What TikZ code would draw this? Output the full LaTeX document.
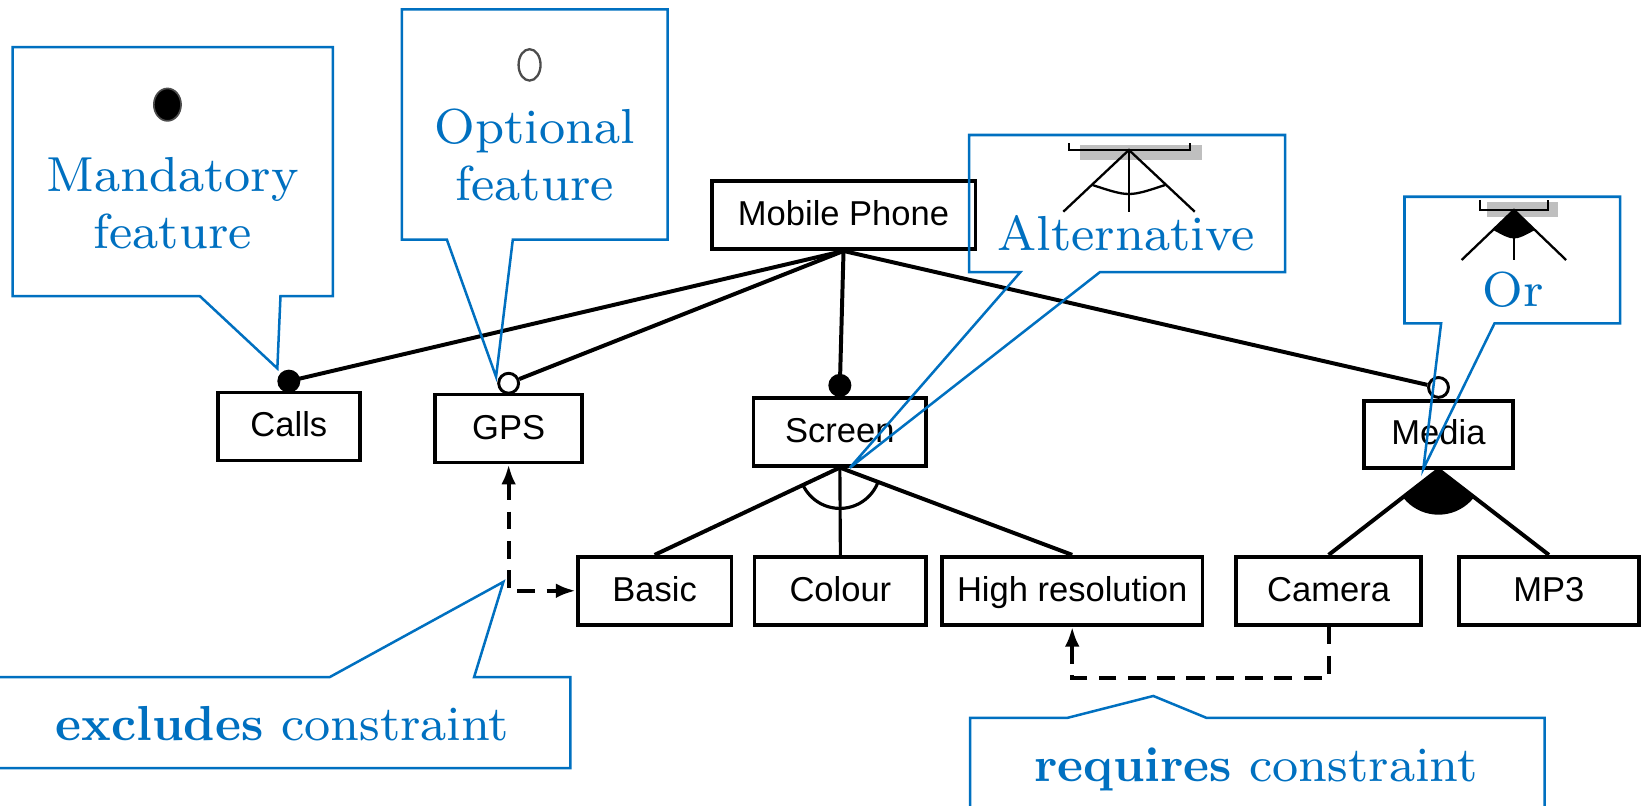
\documentclass[tikz,border=0pt]{standalone}
\usepackage{fontspec}
\setmainfont{lmroman8-regular}[Extension=.otf, BoldFont=lmroman10-bold]
\newfontfamily\featfont{Liberation Sans}
\usetikzlibrary{arrows.meta,calc}
\definecolor{callblue}{HTML}{0070C0}

\begin{document}
\begin{tikzpicture}[x=1pt,y=-1pt,
  feat/.style={draw, line width=3.6pt, rectangle, inner sep=0pt,
    minimum height=65pt, text height=24pt, text depth=4pt,
    font=\featfont\fontsize{33}{40}\selectfont},
  conn/.style={line width=3.8pt},
  mand/.style={circle, fill=black, minimum size=22pt, inner sep=0pt},
  opt/.style={circle, draw, fill=white, line width=2.8pt, minimum size=19pt, inner sep=0pt},
  dep/.style={line width=4pt, dash pattern=on 17pt off 11pt},
  tip/.tip={Latex[length=19pt,width=14pt]},
  callout/.style={draw=callblue, line width=2.4pt, line join=miter},
  ctext/.style={text=callblue, inner sep=0pt, font=\fontsize{47}{54}\selectfont},
  icon/.style={line width=2.2pt}]

\useasboundingbox (0,0) rectangle (1568,770);
\clip (0,0) rectangle (1568,770);

% feature boxes
\node[feat, minimum width=252pt] (mp) at (806,205.5) {Mobile Phone};
\node[feat, minimum width=136pt] (calls) at (276,407.5) {Calls};
\node[feat, minimum width=140pt] (gps) at (486,409.5) {GPS};
\node[feat, minimum width=165pt] (screen) at (802.5,412.5) {Screen};
\node[feat, minimum width=143pt, minimum height=64pt] (media) at (1374.5,415) {Media};
\node[feat, minimum width=147pt] (basic) at (625.5,564.5) {Basic};
\node[feat, minimum width=164pt] (colour) at (803,564.5) {Colour};
\node[feat, minimum width=249pt] (hires) at (1024.5,564.5) {High resolution};
\node[feat, minimum width=177pt] (camera) at (1269.5,564.5) {Camera};
\node[feat, minimum width=172pt] (mp3) at (1480,564.5) {MP3};

% mandatory / optional markers
\node[mand] (mCalls) at ($(calls.north)+(0,-9)$) {};
\node[opt] (oGPS) at ($(gps.north)+(0,-9)$) {};
\node[mand] (mScreen) at ($(screen.north)+(0,-10)$) {};
\node[opt] (oMedia) at ($(media.north)+(0,-11)$) {};

\draw[conn] (mp.south) -- (mCalls.center);
\draw[conn] (mp.south) -- (oGPS);
\draw[conn] (mp.south) -- (mScreen.center);
\draw[conn] (mp.south) -- (oMedia);

% alternative group under Screen
\draw[conn] (screen.south) -- (basic.north);
\draw[line width=3pt] (screen.south) -- (colour.north);
\draw[conn] (screen.south) -- (hires.north);
\begin{scope}
  \clip (screen.south) -- (basic.north) -- (hires.north) -- cycle;
  \draw[line width=3pt] (screen.south) circle[radius=39pt];
\end{scope}

% or group under Media
\begin{scope}
  \clip (media.south) -- (camera.north) -- (mp3.north) -- cycle;
  \fill (media.south) circle[radius=43pt];
\end{scope}
\draw[conn] (media.south) -- (camera.north);
\draw[conn] (media.south) -- (mp3.north);

% cross-tree constraints
\draw[dep, tip-tip] (gps.south) |- (basic.west);
\coordinate (rq) at (1150,648);
\draw[dep, -tip] (camera.south) |- (rq) -| (hires.south);

% legend icons
\draw[fill=black, draw=black!70, line width=1.6pt] (160,100) ellipse [x radius=13pt, y radius=15.5pt];
\draw[draw=black!70, line width=2.2pt] (506,62) ellipse [x radius=10.5pt, y radius=15pt];

\fill[gray!50] (1032,138.5) rectangle (1148.2,152.9);
\draw[icon] (1021.7,136.9) -- (1021.7,143.3) -- (1137,143.3) -- (1137,136.9);
\coordinate (altApex) at (1078.7,143.3);
\draw[icon] (1016,202.3) -- (altApex) -- (1141.6,202.3);
\draw[icon] (altApex) -- (1078.7,202.3);
\draw[icon] (1044,176.8) .. controls (1078.7,188.2) .. (1113.2,176.8);

\fill[gray!50] (1420.5,192.7) rectangle (1488.9,207.1);
\draw[icon] (1414.1,191.1) -- (1414.1,200.6) -- (1479.4,200.6) -- (1479.4,191.1);
\coordinate (orApex) at (1446.6,200.6);
\draw[icon] (1396.6,248.4) -- (orApex) -- (1496.4,248.4);
\draw[icon] (orApex) -- (1446.6,248.4);
\fill (orApex) -- (1426.8,219.8) .. controls (1446.6,230.6) .. (1466.6,219.8) -- cycle;

% callouts
\draw[callout] (12,45) -- (318,45) -- (318,283) -- (268,283) -- (265,352)
  -- (191,283) -- (12,283) -- cycle;
\draw[callout] (384,9) -- (638,9) -- (638,229) -- (490,229) -- (474,360)
  -- (427,229) -- (384,229) -- cycle;
\draw[callout] (926,129) -- (1228,129) -- (1228,260) -- (1051,260) -- (812,447)
  -- (975,260) -- (926,260) -- cycle;
\draw[callout] (1342,188) -- (1548,188) -- (1548,309) -- (1428,309) -- (1360,448)
  -- (1377,309) -- (1342,309) -- cycle;
\draw[callout] (-10,647) -- (315,647) -- (481,556) -- (453,647) -- (545,647)
  -- (545,734) -- (-10,734);
\draw[callout] (927,780) -- (927,686) -- (1019.6,686) -- (1102,665) -- (1153,686)
  -- (1476,686) -- (1476,780);

\node[ctext, anchor=base] (tMand) at (165,183) {Mandatory};
\node[ctext, anchor=base] (tMandF) at (165,237) {feature};
\node[ctext, anchor=base] (tOpt) at (511,137) {Optional};
\node[ctext, anchor=base] (tOptF) at (511,192) {feature};
\node[ctext, anchor=base] (tAlt) at (1076,239) {Alternative};
\node[ctext, anchor=base] (tOr) at (1446,293) {Or};
\node[ctext, anchor=base] (tExc) at (270,708) {\textbf{excludes} constraint};
\node[ctext, anchor=base] (tReq) at (1200,747) {\textbf{requires} constraint};

\end{tikzpicture}
\end{document}
